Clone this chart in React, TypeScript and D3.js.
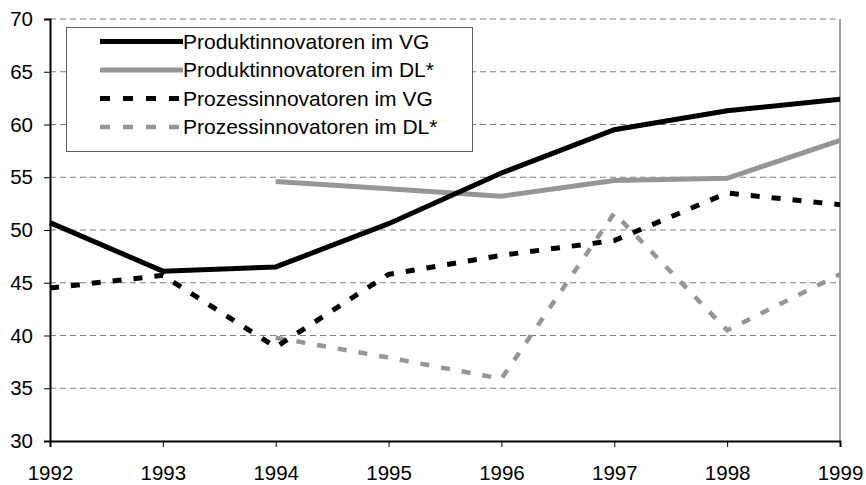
import React, { useEffect, useRef } from 'react';
import * as d3 from 'd3';

const years = [1992, 1993, 1994, 1995, 1996, 1997, 1998, 1999];
const yTicks = [30, 35, 40, 45, 50, 55, 60, 65, 70];

const produktVG = [50.7, 46.1, 46.5, 50.6, 55.4, 59.5, 61.3, 62.4];
const produktDL = [null, null, 54.6, 53.9, 53.2, 54.7, 54.9, 58.5];
const prozessVG = [44.5, 45.7, 38.9, 45.8, 47.6, 49.0, 53.5, 52.4];
const prozessDL = [null, null, 39.8, 37.9, 35.9, 51.6, 40.5, 45.8];

const seriesNames = [
  'Produktinnovatoren im VG',
  'Produktinnovatoren im DL*',
  'Prozessinnovatoren im VG',
  'Prozessinnovatoren im DL*',
];

const FONT = '"Liberation Sans", Arial, sans-serif';

const App = () => {
  const svgRef = useRef<SVGSVGElement>(null);

  useEffect(() => {
    const svg = d3.select(svgRef.current);
    svg.selectAll('*').remove();

    const width = 866;
    const height = 485;
    const margin = { top: 19, right: 26, bottom: 44, left: 50 };

    const x = d3.scaleLinear()
      .domain([1992, 1999])
      .range([margin.left, width - margin.right]);

    const y = d3.scaleLinear()
      .domain([30, 70])
      .range([height - margin.bottom, margin.top]);

    // gridlines
    svg.append('g')
      .selectAll('line')
      .data(yTicks.filter(t => t > 30))
      .join('line')
      .attr('x1', margin.left)
      .attr('x2', width - margin.right)
      .attr('y1', d => y(d))
      .attr('y2', d => y(d))
      .attr('stroke', '#808080')
      .attr('stroke-width', 1)
      .attr('stroke-dasharray', '6,4');

    // right border
    svg.append('line')
      .attr('x1', x(1999)).attr('x2', x(1999))
      .attr('y1', y(70)).attr('y2', y(30))
      .attr('stroke', '#404040')
      .attr('stroke-width', 1);

    // axes
    const yAxis = svg.append('g')
      .attr('transform', `translate(${margin.left},0)`)
      .call(d3.axisLeft(y).tickValues(yTicks).tickSize(6).tickPadding(11).tickFormat(d3.format('d')));
    yAxis.select('.domain').attr('stroke', '#000').attr('stroke-width', 2);
    yAxis.selectAll('.tick line').attr('stroke', '#000');
    yAxis.selectAll('text')
      .attr('fill', '#000')
      .style('font-family', FONT)
      .style('font-size', '20.5px');

    const xAxis = svg.append('g')
      .attr('transform', `translate(0,${y(30)})`)
      .call(d3.axisBottom(x).tickValues(years).tickSize(6).tickPadding(18).tickFormat(d3.format('d')));
    xAxis.select('.domain').attr('stroke', '#000').attr('stroke-width', 2);
    xAxis.selectAll('.tick line').attr('stroke', '#000');
    xAxis.selectAll('text')
      .attr('fill', '#000')
      .style('font-family', FONT)
      .style('font-size', '20.5px');

    const styles = [
      { color: '#000000', width: 5, dash: null },
      { color: '#969696', width: 5, dash: null },
      { color: '#000000', width: 5, dash: '9,12' },
      { color: '#969696', width: 4.5, dash: '9,12' },
    ];
    const allSeries = [produktVG, produktDL, prozessVG, prozessDL];

    const line = d3.line<number | null>()
      .defined(d => d != null)
      .x((d, i) => x(years[i]))
      .y(d => y(d as number));

    // draw in back-to-front order
    [3, 2, 1, 0].forEach(i => {
      const s = styles[i];
      svg.append('path')
        .datum(allSeries[i])
        .attr('d', line)
        .attr('fill', 'none')
        .attr('stroke', s.color)
        .attr('stroke-width', s.width)
        .attr('stroke-dasharray', s.dash)
        .attr('stroke-linejoin', 'miter');
    });

    // legend
    const legend = svg.append('g');
    legend.append('rect')
      .attr('x', 66.5)
      .attr('y', 27.5)
      .attr('width', 406)
      .attr('height', 124)
      .attr('fill', '#fff')
      .attr('stroke', '#606060')
      .attr('stroke-width', 1);

    seriesNames.forEach((name, i) => {
      const s = styles[i];
      const ly = 41.5 + i * 28.5;
      legend.append('line')
        .attr('x1', 100).attr('x2', 183)
        .attr('y1', ly).attr('y2', ly)
        .attr('stroke', s.color)
        .attr('stroke-width', s.width)
        .attr('stroke-dasharray', s.dash ? '10,13' : null);
      legend.append('text')
        .attr('x', 183)
        .attr('y', ly)
        .attr('dy', '0.35em')
        .attr('fill', '#000')
        .style('font-family', FONT)
        .style('font-size', '21px')
        .text(name);
    });
  }, []);

  return (
    <svg
      ref={svgRef}
      width={866}
      height={485}
      viewBox="0 0 866 485"
      style={{ position: 'absolute', left: 0, top: 0, background: '#fff' }}
    />
  );
};

export default App;
